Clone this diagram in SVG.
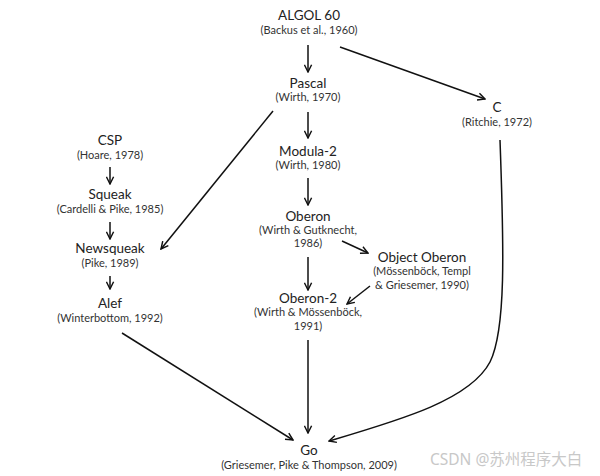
<svg xmlns="http://www.w3.org/2000/svg" width="600" height="476" viewBox="0 0 600 476">
<defs>
<marker id="ah" viewBox="0 0 10 10" refX="9" refY="5" markerWidth="9" markerHeight="9" markerUnits="userSpaceOnUse" orient="auto">
<path d="M1,1 L9,5 L1,9" fill="none" stroke="#111" stroke-width="1.6"/>
</marker>
<style>
.t{font-family:Lato,"Liberation Sans",sans-serif;font-size:13.5px;fill:#222;text-anchor:middle}
.s{font-family:Lato,"Liberation Sans",sans-serif;font-size:11px;fill:#333;text-anchor:middle}
.e{fill:none;stroke:#111;stroke-width:1.5;marker-end:url(#ah)}
.w{font-family:"Noto Sans","Noto Sans CJK SC",sans-serif;font-size:15.5px;fill:#c8c8c8}
</style>
</defs>
<rect width="600" height="476" fill="#fff"/>
<g id="connectors">
<path class="e" d="M308,45 L308,72"/>
<path class="e" d="M340,47 L485,99"/>
<path class="e" d="M308,112 L308,138"/>
<path class="e" d="M308,178 L308,205"/>
<path class="e" d="M342,241 L368,253"/>
<path class="e" d="M370,286 L347,304"/>
<path class="e" d="M308,257 L308,290"/>
<path class="e" d="M308,340 L308,433"/>
<path class="e" d="M273,111 L161,249"/>
<path class="e" d="M110,167 L110,184"/>
<path class="e" d="M110,222 L110,239"/>
<path class="e" d="M110,276 L110,289"/>
<path class="e" d="M122,333 L293,440"/>
<path class="e" d="M500,140 C504,250 506,330 490,362 C470,400 400,420 329,441"/>
</g>
<g id="algol60"><text class="t" x="309" y="20">ALGOL 60</text><text class="s" x="309" y="34">(Backus et al., 1960)</text></g>
<g id="pascal"><text class="t" x="308" y="88">Pascal</text><text class="s" x="308" y="101">(Wirth, 1970)</text></g>
<g id="c"><text class="t" x="497" y="112">C</text><text class="s" x="497" y="126">(Ritchie, 1972)</text></g>
<g id="modula2"><text class="t" x="308" y="156">Modula-2</text><text class="s" x="308" y="169">(Wirth, 1980)</text></g>
<g id="oberon"><text class="t" x="308" y="221">Oberon</text><text class="s" x="308" y="234">(Wirth &amp; Gutknecht,</text><text class="s" x="308" y="247">1986)</text></g>
<g id="objectoberon"><text class="t" x="422" y="262">Object Oberon</text><text class="s" x="422" y="275">(Mössenböck, Templ</text><text class="s" x="422" y="289">&amp; Griesemer, 1990)</text></g>
<g id="oberon2"><text class="t" x="308" y="303">Oberon-2</text><text class="s" x="308" y="316">(Wirth &amp; Mössenböck,</text><text class="s" x="308" y="330">1991)</text></g>
<g id="csp"><text class="t" x="110" y="145">CSP</text><text class="s" x="110" y="159">(Hoare, 1978)</text></g>
<g id="squeak"><text class="t" x="110" y="199">Squeak</text><text class="s" x="110" y="213">(Cardelli &amp; Pike, 1985)</text></g>
<g id="newsqueak"><text class="t" x="110" y="253">Newsqueak</text><text class="s" x="110" y="267">(Pike, 1989)</text></g>
<g id="alef"><text class="t" x="110" y="308">Alef</text><text class="s" x="110" y="322">(Winterbottom, 1992)</text></g>
<g id="go"><text class="t" x="309" y="455">Go</text><text class="s" x="309" y="469">(Griesemer, Pike &amp; Thompson, 2009)</text></g>
<text class="w" x="430" y="465">CSDN @苏州程序大白</text>
</svg>
